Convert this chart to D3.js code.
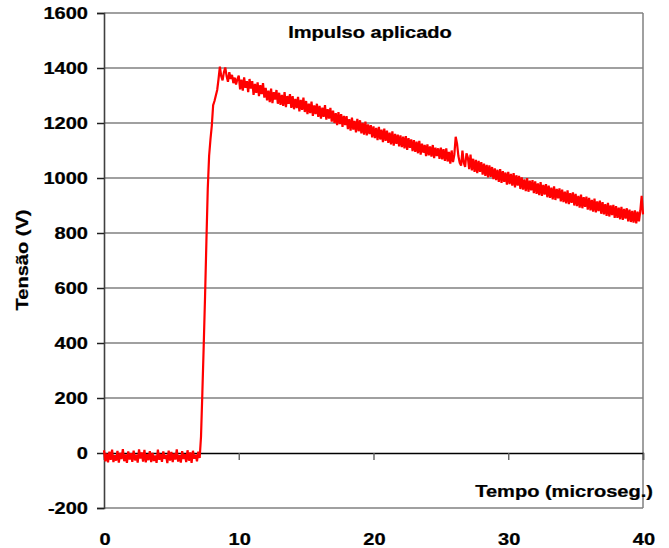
<!DOCTYPE html>
<html><head><meta charset="utf-8">
<script src="https://cdn.jsdelivr.net/npm/d3@7"></script>
<style>body{margin:0;background:#fff}svg{display:block}</style>
</head><body>
<script>
// ---- data ----
const title = "Impulso aplicado";
const xTitle = "Tempo (microseg.)";
const yTitle = "Tensão (V)";
const xTicks = [0, 10, 20, 30, 40];
const yTicks = [-200, 0, 200, 400, 600, 800, 1000, 1200, 1400, 1600];
const sampleStep = 0.1; // microseconds between samples, t = 0 … 40
const voltage = [
 10,-30,-2,-34,5,-25,12,-33,-8,-28,
 8,-35,0,-22,14,-30,-5,-36,6,-24,
 -1,-32,9,-27,-6,-35,13,-20,2,-31,
 11,-34,-4,-26,7,-33,0,-29,-9,-36,
 12,-25,-3,-32,6,-21,-7,-37,9,-28,
 4,-33,-2,-24,13,-31,-8,-35,7,-22,
 -4,-33,10,-28,2,-36,8,-21,-6,-30,
 5,-18,60,220,390,570,770,960,1080,1140,
 1190,1265,1280,1300,1320,1360,1405,1370,1355,1385,
 1402,1370,1350,1385,1360,1375,1345,1365,1340,1360,
 1372,1322,1358,1318,1366,1328,1352,1312,1360,1325,
 1352,1302,1342,1310,1348,1298,1338,1305,1345,1292,
 1328,1282,1318,1276,1325,1272,1312,1285,1320,1270,
 1310,1266,1302,1262,1312,1258,1298,1270,1305,1255,
 1298,1250,1288,1254,1295,1242,1284,1248,1292,1240,
 1280,1232,1270,1236,1278,1226,1264,1232,1270,1222,
 1262,1216,1256,1222,1265,1212,1250,1216,1255,1205,
 1245,1200,1236,1192,1240,1196,1232,1186,1226,1192,
 1225,1178,1214,1172,1220,1176,1208,1166,1215,1170,
 1210,1162,1200,1158,1205,1155,1195,1160,1192,1148,
 1188,1145,1182,1138,1186,1140,1176,1130,1180,1135,
 1172,1128,1165,1122,1170,1118,1160,1124,1158,1115,
 1155,1112,1150,1108,1152,1102,1145,1110,1140,1098,
 1138,1095,1132,1090,1135,1085,1125,1092,1120,1080,
 1122,1082,1115,1078,1120,1072,1110,1080,1108,1070,
 1110,1068,1105,1062,1108,1060,1095,1052,1100,1058,
 1085,1150,1125,1080,1055,1045,1100,1055,1040,1090,
 1075,1032,1085,1028,1070,1022,1066,1018,1062,1022,
 1058,1012,1052,1008,1048,1002,1046,1004,1040,996,
 1035,992,1030,986,1032,982,1025,986,1020,976,
 1022,978,1015,972,1018,966,1010,972,1008,960,
 1002,958,995,952,1000,950,990,955,992,945,
 988,942,980,938,985,935,975,940,978,930,
 972,928,965,922,970,920,960,926,962,915,
 958,912,950,908,955,905,945,910,948,900,
 942,898,935,892,940,890,930,895,932,885,
 928,882,920,878,925,875,915,880,918,870,
 912,868,905,862,910,860,900,865,902,855,
 898,855,892,850,895,848,888,852,890,842,
 885,840,880,838,882,835,878,842,880,935,
 868
];

// ---- drawing ----
const W = 669, H = 548;
const svg = d3.select("body").append("svg").attr("width", W).attr("height", H);
const x = d3.scaleLinear().domain([0, 40]).range([104, 643]);
const y = d3.scaleLinear().domain([-200, 1600]).range([508, 13]);
const font = "'Liberation Sans', Arial, sans-serif";
const SX = 1.18;

function label(g, txt, tx, ty, anchor, size, rot) {
  return g.append("text")
    .attr("transform", `translate(${tx},${ty})` + (rot ? ` rotate(${rot})` : "") + ` scale(${SX},1)`)
    .attr("text-anchor", anchor)
    .attr("font-family", font).attr("font-weight", "bold")
    .attr("font-size", size).attr("fill", "#000")
    .attr("stroke", "#000").attr("stroke-width", 0.25)
    .text(txt);
}

// gridlines
svg.append("g").selectAll("line").data(yTicks.filter(v => v !== 0 && v !== -200)).join("line")
  .attr("x1", x(0)).attr("x2", x(40))
  .attr("y1", d => y(d)).attr("y2", d => y(d))
  .attr("stroke", "#808080").attr("stroke-width", 1.6);

// plot border (right, bottom)
svg.append("line").attr("x1", x(40)).attr("x2", x(40)).attr("y1", y(1600)).attr("y2", y(-200))
  .attr("stroke", "#808080").attr("stroke-width", 1.5);
svg.append("line").attr("x1", x(0)).attr("x2", x(40)).attr("y1", y(-200)).attr("y2", y(-200))
  .attr("stroke", "#808080").attr("stroke-width", 1.5);

// y axis
const yAxis = d3.axisLeft(y).tickValues(yTicks).tickSize(7).tickFormat("");
const gy = svg.append("g").attr("transform", `translate(${x(0)},0)`).call(yAxis);
gy.select(".domain").attr("stroke", "#404040").attr("stroke-width", 1.6);
gy.selectAll(".tick line").attr("stroke", "#202020").attr("stroke-width", 1.5);
yTicks.forEach(v => label(svg, String(v), 88, y(v) + 6, "end", 17));

// x axis at 0
const xAxis = d3.axisBottom(x).tickValues(xTicks).tickSize(7).tickFormat("");
const gx = svg.append("g").attr("transform", `translate(0,${y(0)})`).call(xAxis);
gx.select(".domain").attr("stroke", "#000").attr("stroke-width", 1.4);
gx.selectAll(".tick line").attr("stroke", "#606060").attr("stroke-width", 1.4);
xTicks.forEach(v => label(svg, String(v), x(v) + 1, 545, "middle", 17));

// trace
const pts = voltage.map((v, i) => [i * sampleStep, v]);
svg.append("path").datum(pts)
  .attr("fill", "none").attr("stroke", "#ff0000").attr("stroke-width", 2.2)
  .attr("stroke-linejoin", "miter").attr("stroke-miterlimit", 2)
  .attr("d", d3.line().x(d => x(d[0])).y(d => y(d[1])));

// titles
label(svg, title, 370, 38, "middle", 17);
label(svg, xTitle, 653, 497, "end", 17);
label(svg, yTitle, 28, 260, "middle", 17, -90);
</script>
</body></html>
